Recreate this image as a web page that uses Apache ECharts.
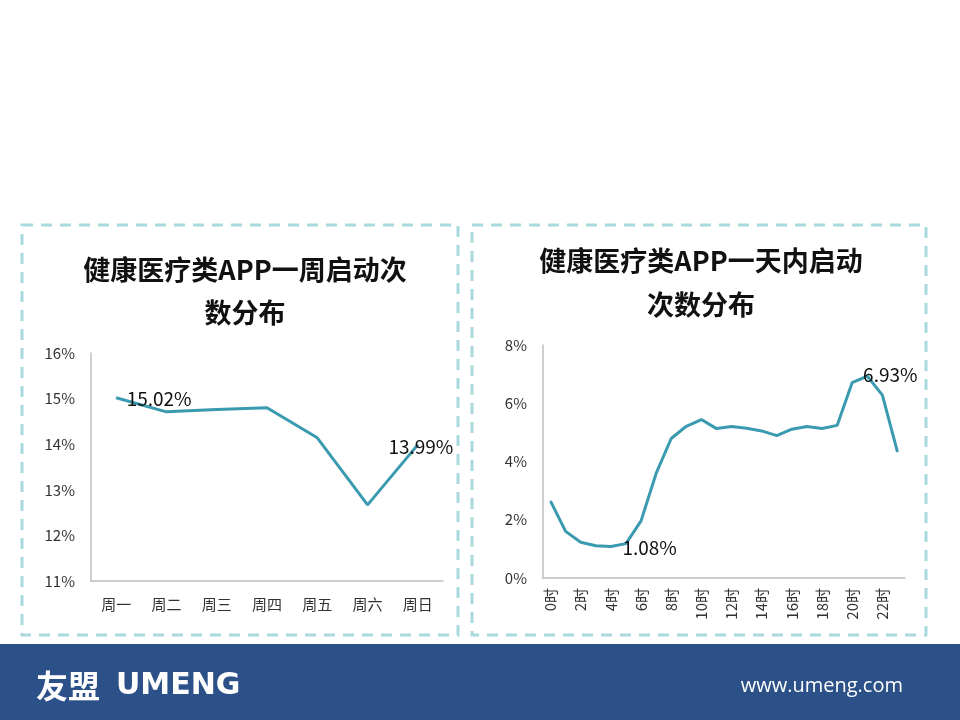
<!DOCTYPE html>
<html>
<head>
<meta charset="utf-8">
<script src="https://cdn.jsdelivr.net/npm/echarts@6/dist/echarts.min.js"></script>
<style>
html,body{margin:0;padding:0;background:#fff;}
#c{width:960px;height:720px;}
</style>
</head>
<body>
<div id="c"></div>
<script>
// ---- data ----
var weekCategories = ['周一','周二','周三','周四','周五','周六','周日'];
var weekValues = [15.02, 14.71, 14.76, 14.80, 14.14, 12.67, 13.99];
var weekLabelIdx = [0, 6];

var hourCategories = ['0时','1时','2时','3时','4时','5时','6时','7时','8时','9时','10时','11时',
  '12时','13时','14时','15时','16时','17时','18时','19时','20时','21时','22时','23时'];
var hourValues = [2.64, 1.60, 1.23, 1.11, 1.08, 1.18, 1.96, 3.59, 4.79, 5.21, 5.44, 5.13,
  5.20, 5.14, 5.05, 4.89, 5.11, 5.20, 5.13, 5.24, 6.71, 6.93, 6.28, 4.33];
var hourLabelIdx = [4, 21];

var weekTicks = [11, 16, 1];
var hourTicks = [0, 8, 2];

var leftTitle = ['健康医疗类APP一周启动次', '数分布'];
var rightTitle = ['健康医疗类APP一天内启动', '次数分布'];

// ---- build ----
var lineColor = '#3a9ab0';
var axisColor = '#bfbfbf';
var txtColor = '#333333';
var font = '"Noto Sans CJK SC", "Noto Sans", sans-serif';

function mk(values, idxs, labelCfg) {
  return values.map(function (v, i) {
    var k = idxs.indexOf(i);
    if (k < 0) return v;
    return { value: v, label: Object.assign({ show: true, formatter: function (p) { return p.value.toFixed(2) + '%'; },
      fontSize: 19, color: '#111', fontFamily: font }, labelCfg[k]) };
  });
}

var chart = echarts.init(document.getElementById('c'), null, { renderer: 'canvas' });

var borderStyle = { fill: 'none', stroke: '#a9d9dc', lineWidth: 3, lineDash: [11, 8] };
var titleFont = 'bold 27px ' + font;

chart.setOption({
  backgroundColor: '#ffffff',
  animation: false,
  grid: [
    { left: 91, top: 353, width: 352, height: 228 },
    { left: 543, top: 345, width: 362, height: 233 }
  ],
  xAxis: [
    { gridIndex: 0, type: 'category', data: weekCategories, boundaryGap: true,
      axisLine: { lineStyle: { color: axisColor, width: 1.5 } }, axisTick: { show: false },
      axisLabel: { color: txtColor, fontSize: 15, margin: 16, fontFamily: font } },
    { gridIndex: 1, type: 'category', data: hourCategories, boundaryGap: true,
      axisLine: { lineStyle: { color: axisColor, width: 1.5 } }, axisTick: { show: false },
      axisLabel: { color: txtColor, fontSize: 15, margin: 10, rotate: 90, interval: 1, fontFamily: font } }
  ],
  yAxis: [
    { gridIndex: 0, type: 'value', min: weekTicks[0], max: weekTicks[1], interval: weekTicks[2],
      axisLine: { show: true, lineStyle: { color: axisColor, width: 1.5 } }, axisTick: { show: false },
      splitLine: { show: false },
      axisLabel: { color: txtColor, fontSize: 15, margin: 16, formatter: '{value}%', fontFamily: font } },
    { gridIndex: 1, type: 'value', min: hourTicks[0], max: hourTicks[1], interval: hourTicks[2],
      axisLine: { show: true, lineStyle: { color: axisColor, width: 1.5 } }, axisTick: { show: false },
      splitLine: { show: false },
      axisLabel: { color: txtColor, fontSize: 15, margin: 16, formatter: '{value}%', fontFamily: font } }
  ],
  series: [
    { type: 'line', xAxisIndex: 0, yAxisIndex: 0, symbol: 'circle', symbolSize: 1, showSymbol: true,
      itemStyle: { color: lineColor }, lineStyle: { color: lineColor, width: 3 },
      data: mk(weekValues, weekLabelIdx, [
        { position: 'right', distance: 10, offset: [0, 1] },
        { position: 'inside', offset: [3, 2] }
      ]) },
    { type: 'line', xAxisIndex: 1, yAxisIndex: 1, symbol: 'circle', symbolSize: 1, showSymbol: true,
      itemStyle: { color: lineColor }, lineStyle: { color: lineColor, width: 3 },
      data: mk(hourValues, hourLabelIdx, [
        { position: 'right', distance: 11, offset: [0, 1] },
        { position: 'inside', offset: [23, -1] }
      ]) }
  ],
  graphic: [
    { type: 'rect', shape: { x: 22, y: 225, width: 436, height: 410 }, style: borderStyle, silent: true },
    { type: 'rect', shape: { x: 472, y: 225, width: 454, height: 410 }, style: borderStyle, silent: true },
    { type: 'text', x: 245, y: 270, style: { text: leftTitle[0], fill: '#111', font: titleFont, textAlign: 'center', textVerticalAlign: 'middle' } },
    { type: 'text', x: 245, y: 313, style: { text: leftTitle[1], fill: '#111', font: titleFont, textAlign: 'center', textVerticalAlign: 'middle' } },
    { type: 'text', x: 701, y: 261, style: { text: rightTitle[0], fill: '#111', font: titleFont, textAlign: 'center', textVerticalAlign: 'middle' } },
    { type: 'text', x: 701, y: 305, style: { text: rightTitle[1], fill: '#111', font: titleFont, textAlign: 'center', textVerticalAlign: 'middle' } },
    { type: 'rect', shape: { x: 0, y: 644, width: 960, height: 76 }, style: { fill: '#2c5189' }, silent: true },
    { type: 'text', x: 36, y: 686, style: { text: '友盟', fill: '#fff', font: 'bold 32px ' + font, textAlign: 'left', textVerticalAlign: 'middle' } },
    { type: 'text', x: 116, y: 686, style: { text: 'UMENG', fill: '#fff', font: 'bold 30px "DejaVu Sans", sans-serif', textAlign: 'left', textVerticalAlign: 'middle' } },
    { type: 'text', x: 903, y: 686, style: { text: 'www.umeng.com', fill: '#fff', font: '20px "Open Sans", sans-serif', textAlign: 'right', textVerticalAlign: 'middle' } }
  ]
});
</script>
</body>
</html>
